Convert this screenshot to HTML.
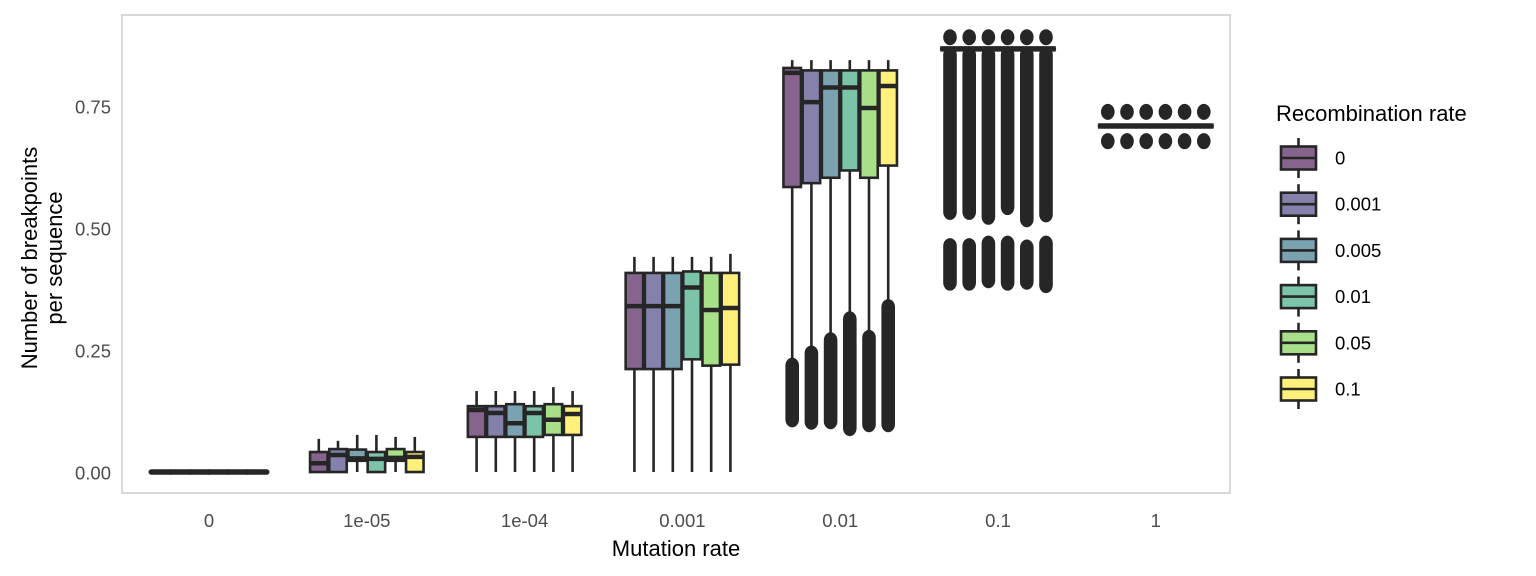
<!DOCTYPE html>
<html><head><meta charset="utf-8"><style>
body{margin:0;background:#fff;}
svg{display:block;font-family:"Liberation Sans",Arial,sans-serif;}
</style></head><body>
<svg id="chart" width="1536" height="576">
<rect x="122" y="15" width="1108" height="478" fill="none" stroke="#bdbdbd" stroke-width="1.2"/>
<g id="marks"></g>
<g id="axes"></g>
<text x="676" y="556" text-anchor="middle" font-size="22" fill="#000">Mutation rate</text>
<text transform="translate(37,258) rotate(-90)" text-anchor="middle" font-size="22" fill="#000"><tspan x="0" dy="0">Number of breakpoints</tspan><tspan x="0" dy="25">per sequence</tspan></text>
<g id="legend"></g>
</svg>
<script>
const categories=["0","1e-05","1e-04","0.001","0.01","0.1","1"];
const seriesNames=["0","0.001","0.005","0.01","0.05","0.1"];
const colors=["#86648d","#8482aa","#7aa2b0","#7cc4a8","#a8e08a","#fef07a"];
const yTicks=[0,0.25,0.5,0.75];
const yTickLabels=["0.00","0.25","0.50","0.75"];
// per category, per series: [whiskerLo, q1, median, q3, whiskerHi]
const stats0=[[0.002,0.002,0.002,0.002,0.002],[0.002,0.002,0.002,0.002,0.002],[0.002,0.002,0.002,0.002,0.002],[0.002,0.002,0.002,0.002,0.002],[0.002,0.002,0.002,0.002,0.002],[0.002,0.002,0.002,0.002,0.002]];
const stats1=[[0.002,0.002,0.02,0.043,0.07],[0.002,0.002,0.037,0.049,0.066],[0.002,0.025,0.03,0.048,0.078],[0.002,0.002,0.029,0.043,0.078],[0.002,0.025,0.031,0.049,0.074],[0.002,0.002,0.033,0.043,0.074]];
const stats2=[[0.002,0.074,0.129,0.137,0.168],[0.002,0.074,0.123,0.137,0.168],[0.002,0.074,0.102,0.141,0.168],[0.002,0.074,0.123,0.137,0.168],[0.002,0.078,0.109,0.141,0.176],[0.002,0.078,0.121,0.137,0.168]];
const stats3=[[0.002,0.213,0.342,0.41,0.443],[0.002,0.213,0.342,0.41,0.443],[0.002,0.213,0.342,0.41,0.443],[0.002,0.233,0.38,0.413,0.443],[0.002,0.22,0.334,0.41,0.443],[0.002,0.222,0.338,0.41,0.449]];
const stats4=[[0.23,0.586,0.82,0.83,0.846],[0.25,0.594,0.76,0.825,0.846],[0.28,0.605,0.79,0.825,0.846],[0.32,0.62,0.79,0.825,0.846],[0.28,0.605,0.748,0.825,0.846],[0.344,0.63,0.793,0.825,0.846]];
const stats5=[[0.869,0.869,0.869,0.869,0.869],[0.869,0.869,0.869,0.869,0.869],[0.869,0.869,0.869,0.869,0.869],[0.869,0.869,0.869,0.869,0.869],[0.869,0.869,0.869,0.869,0.869],[0.869,0.869,0.869,0.869,0.869]];
const stats6=[[0.711,0.711,0.711,0.711,0.711],[0.711,0.711,0.711,0.711,0.711],[0.711,0.711,0.711,0.711,0.711],[0.711,0.711,0.711,0.711,0.711],[0.711,0.711,0.711,0.711,0.711],[0.711,0.711,0.711,0.711,0.711]];
const allStats=[stats0,stats1,stats2,stats3,stats4,stats5,stats6];
// dense outlier ranges: [category, series, lo, hi]
const outlierRanges=[
[4,0,0.11,0.22],[4,1,0.105,0.245],[4,2,0.106,0.272],[4,3,0.092,0.315],[4,4,0.1,0.277],[4,5,0.1,0.34],
[5,0,0.535,0.857],[5,1,0.535,0.857],[5,2,0.525,0.857],[5,3,0.545,0.857],[5,4,0.52,0.857],[5,5,0.53,0.857],
[5,0,0.39,0.465],[5,1,0.39,0.465],[5,2,0.395,0.47],[5,3,0.39,0.47],[5,4,0.392,0.462],[5,5,0.385,0.47],
[5,0,0.893,0.893],[5,1,0.893,0.893],[5,2,0.893,0.893],[5,3,0.893,0.893],[5,4,0.893,0.893],[5,5,0.893,0.893],
[6,0,0.74,0.74],[6,1,0.74,0.74],[6,2,0.74,0.74],[6,3,0.74,0.74],[6,4,0.74,0.74],[6,5,0.74,0.74],
[6,0,0.68,0.68],[6,1,0.68,0.68],[6,2,0.68,0.68],[6,3,0.68,0.68],[6,4,0.68,0.68],[6,5,0.68,0.68]
];
const NS="http://www.w3.org/2000/svg";
function y(v){return 473-v*488;}
function xc(i){return 209+i*157.8;}
function xs(i,s){return xc(i)+(s-2.5)*19.2;}
function mk(tag,attrs,parent){const e=document.createElementNS(NS,tag);for(const k in attrs)e.setAttribute(k,attrs[k]);parent.appendChild(e);return e;}
const marks=document.getElementById('marks');
allStats.forEach((grp,i)=>{
  grp.forEach((st,s)=>{
    const g=mk('g',{},marks);
    
    
    const cx=xs(i,s),w=17.5;
    mk('line',{x1:cx,x2:cx,y1:y(st[0]),y2:y(st[4]),stroke:'#262626','stroke-width':2.6},g);
    mk('rect',{x:cx-w/2,y:y(st[3]),width:w,height:Math.max(0.01,y(st[1])-y(st[3])),fill:colors[s],stroke:'#262626','stroke-width':2.6},g);
    mk('line',{x1:cx-w/2-1,x2:cx+w/2+1,y1:y(st[2]),y2:y(st[2]),stroke:'#262626','stroke-width':(st[1]==st[3]?5.5:4.5),'stroke-linecap':(i==0?'round':'butt')},g);
  });
});
outlierRanges.forEach(r=>{
  const cx=xs(r[0],r[1]),top=y(r[3])-8,bot=y(r[2])+8;
  const e=mk('rect',{x:cx-6.8,y:top,width:13.6,height:bot-top,rx:6.8,ry:8,fill:'#262626'},marks);
  
  
});
const axes=document.getElementById('axes');
yTicks.forEach((v,k)=>{
  const t=mk('text',{x:111,y:y(v)+6.5,'text-anchor':'end','font-size':18.5,fill:'#4d4d4d'},axes);
  t.textContent=yTickLabels[k];
  
  
});
categories.forEach((c,i)=>{
  const t=mk('text',{x:xc(i),y:527,'text-anchor':'middle','font-size':18.5,fill:'#4d4d4d'},axes);
  t.textContent=c;
  
  
});
const lg=document.getElementById('legend');
const lt=mk('text',{x:1276,y:121,'font-size':22,fill:'#000'},lg);
lt.textContent='Recombination rate';


seriesNames.forEach((n,s)=>{
  const cy=158+s*46.2;
  const g=mk('g',{},lg);
  
  
  mk('line',{x1:1298.5,x2:1298.5,y1:cy-20,y2:cy+20,stroke:'#262626','stroke-width':2.6},g);
  mk('rect',{x:1281,y:cy-11.5,width:35,height:23,fill:colors[s],stroke:'#262626','stroke-width':2.6},g);
  mk('line',{x1:1281,x2:1316,y1:cy,y2:cy,stroke:'#262626','stroke-width':2.6},g);
  const t=mk('text',{x:1335,y:cy+6.5,'font-size':18.5,fill:'#000'},g);
  t.textContent=n;
});
</script>
</body></html>
